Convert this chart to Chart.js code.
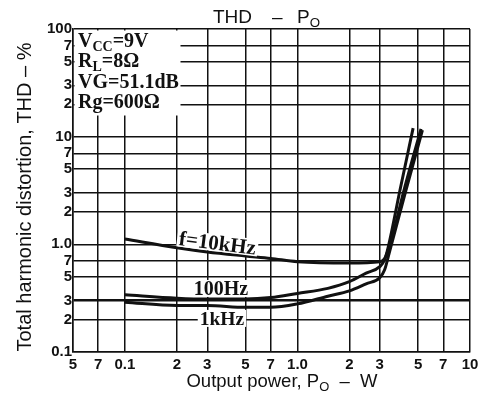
<!DOCTYPE html>
<html>
<head>
<meta charset="utf-8">
<script src="https://cdn.jsdelivr.net/npm/chart.js@4"></script>
<style>
  body { margin: 0; background: #fff; }
  #wrap { position: relative; width: 491px; height: 393px; }
</style>
</head>
<body>
<div id="wrap"><canvas id="myChart"></canvas></div>
<script>
// output power (W) and THD (%)
const power10k = [0.1, 0.2, 0.3, 0.5, 0.7, 1.0, 2.0, 3.0, 3.2, 3.44, 4.2, 5.2];
const thd10k = [1.12, 0.93, 0.85, 0.78, 0.74, 0.69, 0.67, 0.69, 0.74, 1.0, 3.45, 11.8];

const power100 = [0.1, 0.2, 0.3, 0.5, 0.7, 1.0, 1.5, 2.0, 2.5, 3.0, 3.2, 3.35, 3.93, 4.68];
const thd100 = [0.34, 0.316, 0.31, 0.31, 0.32, 0.35, 0.39, 0.45, 0.54, 0.62, 0.72, 0.93, 3.2, 12];

const power1k = [0.1, 0.2, 0.3, 0.5, 0.7, 1.0, 1.5, 2.0, 2.5, 3.0, 3.2, 3.44, 4.26, 5.3];
const thd1k = [0.29, 0.27, 0.27, 0.26, 0.26, 0.28, 0.33, 0.37, 0.43, 0.49, 0.58, 0.89, 3.2, 11.5];

// tick values and the way the datasheet prints them
const xTickValues = [0.05, 0.07, 0.1, 0.2, 0.3, 0.5, 0.7, 1, 2, 3, 5, 7, 10];
const xTickLabels = ["5", "7", "0.1", "2", "3", "5", "7", "1.0", "2", "3", "5", "7", "10"];
const yTickValues = [0.1, 0.2, 0.3, 0.5, 0.7, 1, 2, 3, 5, 7, 10, 20, 30, 50, 70, 100];
const yTickLabels = ["0.1", "2", "3", "5", "7", "1.0", "2", "3", "5", "7", "10", "2", "3", "5", "7", "100"];

// curve labels, placed at (power, thd), with rotation and size
const curveNames = ["f=10kHz", "100Hz", "1kHz"];
const curveLabelAt = [[0.344, 1.02, 0.125, 21], [0.36, 0.385, 0, 20], [0.365, 0.203, 0, 19.5]];

const INK = "#111";
const SANS = "'Liberation Sans', Arial, sans-serif";
const SERIF = "'Liberation Serif', 'Times New Roman', serif";

function toPoints(xs, ys) {
  return xs.map((v, i) => ({ x: v, y: ys[i] }));
}

// draws text runs, some of them as subscripts
function drawRuns(ctx, runs, x, y, size, family, weight) {
  let cx = x;
  runs.forEach(([txt, sub]) => {
    const s = sub ? size * 0.7 : size;
    ctx.font = `${weight || ""} ${s}px ${family}`;
    ctx.fillText(txt, cx, sub ? y + size * 0.2 : y);
    cx += ctx.measureText(txt).width;
  });
  return cx - x;
}

function runsWidth(ctx, runs, size, family, weight) {
  let w = 0;
  runs.forEach(([txt, sub]) => {
    ctx.font = `${weight || ""} ${sub ? size * 0.7 : size}px ${family}`;
    w += ctx.measureText(txt).width;
  });
  return w;
}

const annotate = {
  id: "annotate",
  afterDraw(chart) {
    const { ctx, chartArea: a, scales } = chart;
    ctx.save();
    ctx.fillStyle = "#fff";
    // conditions box hides the grid in the top-left corner
    ctx.fillRect(a.left + 1.5, a.top + 1.5, 106, 85);

    ctx.fillStyle = INK;
    ctx.textBaseline = "alphabetic";
    const cond = [
      [["V"], ["CC", true], ["=9V"]],
      [["R"], ["L", true], ["=8Ω"]],
      [["VG=51.1dB"]],
      [["Rg=600Ω"]],
    ];
    cond.forEach((runs, i) => {
      drawRuns(ctx, runs, 78, 47 + i * 20.3, 20, SERIF, "bold");
    });

    // curve labels
    curveNames.forEach((name, i) => {
      const [px, py, rot, size] = curveLabelAt[i];
      const cx = scales.x.getPixelForValue(px);
      const cy = scales.y.getPixelForValue(py);
      ctx.save();
      ctx.translate(cx, cy);
      ctx.rotate(rot);
      ctx.font = `bold ${size}px ${SERIF}`;
      const w = ctx.measureText(name).width;
      ctx.fillStyle = "#fff";
      ctx.fillRect(-w / 2 - 2, -9, w + 4, 17);
      ctx.fillStyle = INK;
      ctx.textAlign = "center";
      ctx.textBaseline = "middle";
      ctx.fillText(name, 0, 1);
      ctx.restore();
    });

    // title
    ctx.textBaseline = "alphabetic";
    ctx.font = `19px ${SANS}`;
    ctx.fillText("THD", 213, 23);
    ctx.fillText("–", 272, 23);
    drawRuns(ctx, [["P"], ["O", true]], 297, 23, 19, SANS);

    // x title
    const xt = [["Output power, P"], ["O", true], ["  –  W"]];
    const xw = runsWidth(ctx, xt, 18.5, SANS);
    drawRuns(ctx, xt, 282 - xw / 2, 387, 18.5, SANS);

    // y title
    ctx.save();
    ctx.translate(31, 197);
    ctx.rotate(-Math.PI / 2);
    ctx.font = `20px ${SANS}`;
    ctx.textAlign = "center";
    ctx.fillText("Total harmonic distortion, THD – %", 0, 0);
    ctx.restore();

    ctx.restore();
  },
};

const line = (label, data) => ({
  label,
  data,
  borderColor: INK,
  backgroundColor: INK,
  borderWidth: 3,
  pointRadius: 0,
  cubicInterpolationMode: "monotone",
  fill: false,
});

const data = {
  datasets: [
    line("10kHz", toPoints(power10k, thd10k)),
    line("100Hz", toPoints(power100, thd100)),
    line("1kHz", toPoints(power1k, thd1k)),
  ],
};

const tickFont = { family: SANS, size: 15, weight: "bold" };

const config = {
  type: "line",
  data,
  plugins: [annotate],
  options: {
    responsive: true,
    maintainAspectRatio: false,
    animation: false,
    layout: { padding: { top: 29, right: 21, left: 0, bottom: 0 } },
    plugins: { legend: { display: false }, tooltip: { enabled: false }, title: { display: false } },
    scales: {
      x: {
        type: "logarithmic",
        min: 0.05,
        max: 10,
        afterBuildTicks: (s) => { s.ticks = xTickValues.map((v) => ({ value: v })); },
        afterFit: (s) => { s.height = 41; },
        ticks: {
          callback: (v, i) => xTickLabels[i],
          autoSkip: false,
          maxRotation: 0,
          color: INK,
          font: tickFont,
          padding: 4,
        },
        grid: { color: INK, lineWidth: 1.5, drawTicks: false },
        border: { color: INK, width: 1.5 },
      },
      y: {
        type: "logarithmic",
        min: 0.1,
        max: 100,
        afterBuildTicks: (s) => { s.ticks = yTickValues.map((v) => ({ value: v })); },
        afterFit: (s) => { s.width = 73; },
        ticks: {
          callback: (v, i) => yTickLabels[i],
          autoSkip: false,
          color: INK,
          font: tickFont,
          padding: 1,
        },
        grid: {
          color: INK,
          lineWidth: (c) => (c.tick && c.tick.value === 0.3 ? 2.5 : 1.5),
          drawTicks: false,
        },
        border: { color: INK, width: 1.5 },
      },
    },
  },
};

let myChart = new Chart(document.getElementById("myChart"), config);
</script>
</body>
</html>
